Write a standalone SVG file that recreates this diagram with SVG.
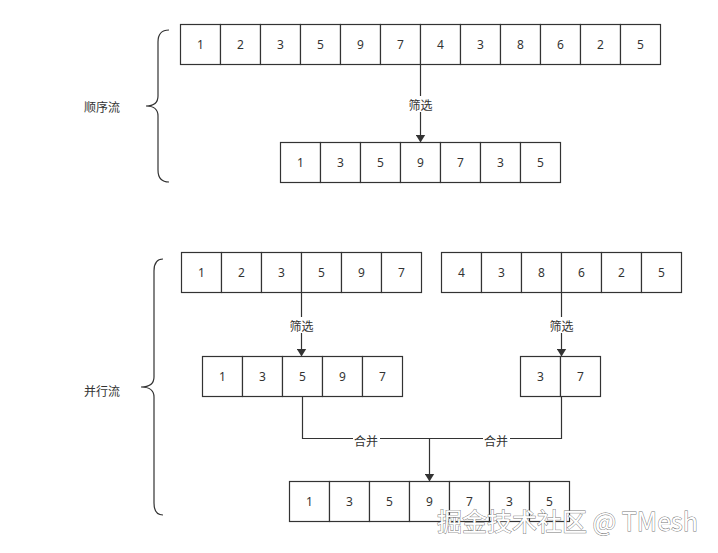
<svg xmlns="http://www.w3.org/2000/svg" width="718" height="553" viewBox="0 0 718 553">
<style>
.cell{fill:#fff;stroke:#333;stroke-width:1.2}
.num{font-family:"Noto Sans","Noto Sans CJK SC",sans-serif;font-size:12px;fill:#333;text-anchor:middle;dominant-baseline:central}
.lbl{font-family:"Noto Sans CJK SC",sans-serif;font-size:12px;fill:#333;text-anchor:middle;dominant-baseline:central}
.edge{fill:none;stroke:#333;stroke-width:1.2}
.brace{fill:none;stroke:#333;stroke-width:1.2}
.lbg{fill:#fff}
.wm{font-family:"Noto Sans CJK SC",sans-serif;font-size:25px;fill:#fff;stroke:#777;stroke-width:0.9;paint-order:stroke}
</style>
<defs>
<marker id="arr" markerWidth="8" markerHeight="10" refX="7" refY="5" orient="auto" markerUnits="userSpaceOnUse">
<path d="M0,0 L8,5 L0,10 Z" fill="#333"/>
</marker>
</defs>
<rect width="718" height="553" fill="#fff"/>

<g id="braces">
<path class="brace" d="M169,30 Q158,30 158,42 L158,96 Q158,106 146,106 Q158,106 158,116 L158,170 Q158,182 169,182"/>
<path class="brace" d="M163,259 Q154,259 154,271 L154,377 Q154,387 141,387 Q154,387 154,397 L154,503 Q154,515 163,515"/>
</g>
<g id="label-seq"><text class="lbl" x="102" y="106">顺序流</text></g>
<g id="label-par"><text class="lbl" x="102" y="390">并行流</text></g>

<g id="connectors">
<path class="edge" d="M420.5,64.5 L420.5,141.5" marker-end="url(#arr)"/>
<path class="edge" d="M301.5,292.5 L301.5,355.5" marker-end="url(#arr)"/>
<path class="edge" d="M561.5,292.5 L561.5,355.5" marker-end="url(#arr)"/>
<path class="edge" d="M302.5,396.5 L302.5,438.5 L429.5,438.5 L429.5,480.5" marker-end="url(#arr)"/>
<path class="edge" d="M561.5,396.5 L561.5,438.5 L429.5,438.5"/>
<rect class="lbg" x="407" y="96" width="27" height="16"/>
<text class="lbl" x="420.5" y="104">筛选</text>
<rect class="lbg" x="288" y="317" width="27" height="16"/>
<text class="lbl" x="301.5" y="325">筛选</text>
<rect class="lbg" x="548" y="317" width="27" height="16"/>
<text class="lbl" x="561.5" y="325">筛选</text>
<rect class="lbg" x="353" y="432" width="27" height="14"/>
<text class="lbl" x="366" y="440">合并</text>
<rect class="lbg" x="483" y="432" width="27" height="14"/>
<text class="lbl" x="496" y="440">合并</text>
</g>

<g id="seq-source">
<rect class="cell" x="180.5" y="24.5" width="40" height="40"/><text class="num" x="200.5" y="44.5">1</text>
<rect class="cell" x="220.5" y="24.5" width="40" height="40"/><text class="num" x="240.5" y="44.5">2</text>
<rect class="cell" x="260.5" y="24.5" width="40" height="40"/><text class="num" x="280.5" y="44.5">3</text>
<rect class="cell" x="300.5" y="24.5" width="40" height="40"/><text class="num" x="320.5" y="44.5">5</text>
<rect class="cell" x="340.5" y="24.5" width="40" height="40"/><text class="num" x="360.5" y="44.5">9</text>
<rect class="cell" x="380.5" y="24.5" width="40" height="40"/><text class="num" x="400.5" y="44.5">7</text>
<rect class="cell" x="420.5" y="24.5" width="40" height="40"/><text class="num" x="440.5" y="44.5">4</text>
<rect class="cell" x="460.5" y="24.5" width="40" height="40"/><text class="num" x="480.5" y="44.5">3</text>
<rect class="cell" x="500.5" y="24.5" width="40" height="40"/><text class="num" x="520.5" y="44.5">8</text>
<rect class="cell" x="540.5" y="24.5" width="40" height="40"/><text class="num" x="560.5" y="44.5">6</text>
<rect class="cell" x="580.5" y="24.5" width="40" height="40"/><text class="num" x="600.5" y="44.5">2</text>
<rect class="cell" x="620.5" y="24.5" width="40" height="40"/><text class="num" x="640.5" y="44.5">5</text>
</g>

<g id="seq-result">
<rect class="cell" x="280.5" y="142.5" width="40" height="40"/><text class="num" x="300.5" y="162.5">1</text>
<rect class="cell" x="320.5" y="142.5" width="40" height="40"/><text class="num" x="340.5" y="162.5">3</text>
<rect class="cell" x="360.5" y="142.5" width="40" height="40"/><text class="num" x="380.5" y="162.5">5</text>
<rect class="cell" x="400.5" y="142.5" width="40" height="40"/><text class="num" x="420.5" y="162.5">9</text>
<rect class="cell" x="440.5" y="142.5" width="40" height="40"/><text class="num" x="460.5" y="162.5">7</text>
<rect class="cell" x="480.5" y="142.5" width="40" height="40"/><text class="num" x="500.5" y="162.5">3</text>
<rect class="cell" x="520.5" y="142.5" width="40" height="40"/><text class="num" x="540.5" y="162.5">5</text>
</g>

<g id="par-source-left">
<rect class="cell" x="181.5" y="252.5" width="40" height="40"/><text class="num" x="201.5" y="272.5">1</text>
<rect class="cell" x="221.5" y="252.5" width="40" height="40"/><text class="num" x="241.5" y="272.5">2</text>
<rect class="cell" x="261.5" y="252.5" width="40" height="40"/><text class="num" x="281.5" y="272.5">3</text>
<rect class="cell" x="301.5" y="252.5" width="40" height="40"/><text class="num" x="321.5" y="272.5">5</text>
<rect class="cell" x="341.5" y="252.5" width="40" height="40"/><text class="num" x="361.5" y="272.5">9</text>
<rect class="cell" x="381.5" y="252.5" width="40" height="40"/><text class="num" x="401.5" y="272.5">7</text>
</g>

<g id="par-source-right">
<rect class="cell" x="441.5" y="252.5" width="40" height="40"/><text class="num" x="461.5" y="272.5">4</text>
<rect class="cell" x="481.5" y="252.5" width="40" height="40"/><text class="num" x="501.5" y="272.5">3</text>
<rect class="cell" x="521.5" y="252.5" width="40" height="40"/><text class="num" x="541.5" y="272.5">8</text>
<rect class="cell" x="561.5" y="252.5" width="40" height="40"/><text class="num" x="581.5" y="272.5">6</text>
<rect class="cell" x="601.5" y="252.5" width="40" height="40"/><text class="num" x="621.5" y="272.5">2</text>
<rect class="cell" x="641.5" y="252.5" width="40" height="40"/><text class="num" x="661.5" y="272.5">5</text>
</g>

<g id="par-result-left">
<rect class="cell" x="202.5" y="356.5" width="40" height="40"/><text class="num" x="222.5" y="376.5">1</text>
<rect class="cell" x="242.5" y="356.5" width="40" height="40"/><text class="num" x="262.5" y="376.5">3</text>
<rect class="cell" x="282.5" y="356.5" width="40" height="40"/><text class="num" x="302.5" y="376.5">5</text>
<rect class="cell" x="322.5" y="356.5" width="40" height="40"/><text class="num" x="342.5" y="376.5">9</text>
<rect class="cell" x="362.5" y="356.5" width="40" height="40"/><text class="num" x="382.5" y="376.5">7</text>
</g>

<g id="par-result-right">
<rect class="cell" x="520.5" y="356.5" width="40" height="40"/><text class="num" x="540.5" y="376.5">3</text>
<rect class="cell" x="560.5" y="356.5" width="40" height="40"/><text class="num" x="580.5" y="376.5">7</text>
</g>

<g id="par-merged">
<rect class="cell" x="289.5" y="481.5" width="40" height="40"/><text class="num" x="309.5" y="501.5">1</text>
<rect class="cell" x="329.5" y="481.5" width="40" height="40"/><text class="num" x="349.5" y="501.5">3</text>
<rect class="cell" x="369.5" y="481.5" width="40" height="40"/><text class="num" x="389.5" y="501.5">5</text>
<rect class="cell" x="409.5" y="481.5" width="40" height="40"/><text class="num" x="429.5" y="501.5">9</text>
<rect class="cell" x="449.5" y="481.5" width="40" height="40"/><text class="num" x="469.5" y="501.5">7</text>
<rect class="cell" x="489.5" y="481.5" width="40" height="40"/><text class="num" x="509.5" y="501.5">3</text>
<rect class="cell" x="529.5" y="481.5" width="40" height="40"/><text class="num" x="549.5" y="501.5">5</text>
</g>

<g id="watermark"><text class="wm" x="437" y="531">掘金技术社区 @ TMesh</text></g>
</svg>
